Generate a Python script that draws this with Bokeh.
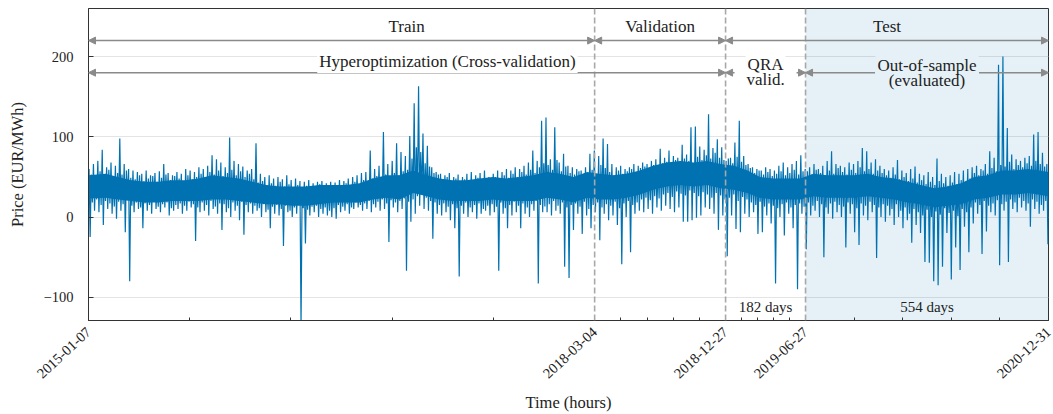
import pandas as pd
from bokeh.plotting import figure
from bokeh.models import (Range1d, FixedTicker, Span, Label, Arrow, NormalHead,
                          BoxAnnotation)
from bokeh.embed import file_html
from bokeh.resources import INLINE

# ---------------------------------------------------------------- data
START = pd.Timestamp("2015-01-07")
period_dates = ["2015-01-07", "2018-03-04", "2018-12-27", "2019-06-27", "2020-12-31"]
period_days = [182, 554]   # QRA validation window, evaluated out-of-sample window
BIN_DAYS = 10              # width of the aggregation bins of the hourly price

# highest / lowest hourly price inside each 10-day bin (EUR/MWh)
price_hi = [
    60, 66, 70, 84, 62, 68, 64, 98, 66, 60, 58, 56, 54, 58, 52, 55, 57, 66, 55, 52,
    56, 54, 60, 58, 56, 62, 60, 64, 77, 72, 68, 62, 99, 70, 66, 63, 58,
    60, 92, 54, 50, 52, 48, 50, 47, 52, 46, 48, 45, 44, 46, 42, 44, 45, 42, 44,
    43, 46, 45, 48, 50, 52, 55, 56, 83, 60, 64, 106, 66, 70, 92, 81, 76,
    101, 142, 163, 104, 89, 62, 56, 54, 52, 55, 50, 53, 50, 54, 56, 52, 55, 58,
    50, 54, 58, 56, 60, 58, 62, 60, 64, 68, 83, 70, 120,
    124, 72, 112, 68, 79, 64, 62, 60, 58, 62, 79, 83, 76, 98, 91, 66, 62, 64, 60,
    62, 66, 64, 68, 66, 70, 72, 85, 74, 83, 76, 74, 90, 78, 112, 113, 88, 84, 128,
    86, 97, 87,
    70, 74, 93, 120, 76, 66, 62, 60, 58, 62, 60, 58, 64, 68, 62, 66, 70, 77,
    60, 62, 66, 60, 64, 70, 82, 66, 64, 62, 68, 66, 70, 86, 82, 68, 72, 64,
    60, 58, 62, 71, 58, 55, 60, 63, 54, 52, 56, 50, 73, 54, 50, 52, 56, 54, 58, 60,
    62, 64, 60, 66, 82, 74, 190, 200, 111, 78, 72, 70, 74, 76, 103, 106, 80, 66,
]
price_lo = [
    -25, 8, 6, -10, 10, 4, -2, 8, -19, -80, 6, 10, -14, 8, 4, 10, 6, 12, 2, 8,
    10, 4, 8, 12, -30, 6, 8, 2, 10, 4, -16, 6, 0, 8, -4, -22, 6,
    4, 8, 0, 6, -14, 4, 2, -36, 6, 0, 4, -135, -33, 2, 6, 0, 4, 2, 0,
    -2, 6, 8, 4, 10, 12, 8, 10, 6, 12, 8, 10, -31, 12, 6, 10, -67,
    -6, 4, 14, 10, 8, -27, 4, 2, 6, -4, -14, -74, 4, 0, 6, -2, 4, 8,
    2, 6, -67, 4, -14, 2, 6, -14, 4, 0, 8, -83, 6,
    6, 2, 8, 4, -62, -76, -16, 4, -21, 2, -14, 6, -29, 4, -4, 2, -10, -59, 0,
    -44, 4, 8, 6, 10, 4, 12, 8, 14, 10, 6, 12, -6, -6, -4, -1, 2, 12, 10,
    4, -16, 2,
    -49, 2, -15, -19, 4, 0, 6, -21, -19, 2, -8, -83, 0, -23, 4, -14, -90, 4,
    -40, 2, 8, 0, -50, 4, -2, 6, 0, -38, 4, -19, -35, 2, -4, 6, -51, 0,
    -6, 2, -10, 0, -14, -4, -32, -10, -20, -56, -57, -80, -85, -62, -20, -78, -38,
    -66, -12, -44,
    -8, 4, -46, -18, 6, 2, -60, 8, -56, 10, 6, 12, 8, -12, 10, 4, 8, -34,
]

# second highest / second lowest excursion inside each 10-day bin (EUR/MWh)
price_hi2 = [
    53, 50, 57, 52, 59, 50, 55, 53, 58, 49, 47, 52, 45, 48, 51, 44, 49, 53, 46, 51,
    48, 45, 52, 47, 50, 54, 49, 56, 53, 58, 51, 55, 59, 52, 57, 50, 54,
    47, 43, 45, 40, 42, 39, 44, 38, 41, 37, 40, 36, 39, 35, 38, 41, 36, 39, 37, 40,
    38, 42, 39, 44, 41, 46, 43, 48, 51, 47, 53, 50, 55, 52, 57, 59,
    73, 87, 81, 67, 63, 55, 53, 47, 50, 45, 48, 44, 47, 42, 46, 49, 45, 48, 44, 50,
    47, 52, 49, 54, 50, 56, 53, 59, 55, 62, 67,
    65, 59, 71, 57, 63, 55, 53, 57, 51, 55, 59, 53, 65, 61, 56, 52, 58, 54, 57, 60,
    55, 61, 63, 59, 65, 62, 67, 69, 65, 71, 68, 73, 70, 67, 75, 71, 77, 73, 80, 74,
    71,
    73, 67, 75, 69, 65, 61, 55, 58, 53, 56, 51, 54, 57, 52, 55, 59, 53, 57,
    57, 53, 59, 55, 52, 58, 54, 61, 56, 53, 59, 55, 62, 57, 60, 54, 58, 55,
    52, 49, 53, 47, 50, 45, 48, 43, 46, 41, 44, 40, 45, 42, 39, 43, 41, 46, 44, 48,
    55, 52, 58, 54, 61, 57, 65, 63, 69, 60, 65, 62, 67, 64, 70, 66, 63, 59,
]
price_lo2 = [
    18, 22, 15, 20, 17, 13, 19, 16, 21, 14, 18, 12, 17, 15, 19, 13, 16, 18, 11, 15,
    17, 14, 19, 16, 12, 18, 15, 20, 13, 17, 16, 11, 18, 14, 19, 15, 17,
    14, 11, 16, 9, 13, 15, 10, 14, 8, 12, 15, 11, 9, 13, 14, 10, 12, 8, 11, 15,
    13, 16, 12, 18, 15, 17, 20, 16, 19, 22, 17, 21, 18, 20, 23, 19,
    22, 26, 28, 24, 20, 18, 15, 17, 13, 16, 11, 14, 18, 12, 15, 17, 10, 14, 16, 13,
    18, 11, 15, 19, 14, 17, 12, 16, 20, 15, 13,
    16, 20, 14, 18, 12, 15, 17, 13, 19, 10, 15, 18, 12, 16, 14, 19, 11, 17, 20, 15,
    18, 22, 24, 21, 26, 23, 28, 30, 25, 32, 29, 27, 33, 30, 26, 31, 28, 24, 30, 27,
    22,
    24, 28, 20, 25, 22, 18, 15, 19, 13, 17, 14, 11, 16, 18, 12, 15, 17, 13,
    18, 14, 20, 16, 12, 17, 19, 15, 13, 18, 16, 11, 17, 14, 19, 15, 12, 16,
    14, 10, 16, 8, 12, 4, 10, 6, 2, 9, 0, 7, 3, 11, 5, 8, 1, 10, 6, 12,
    18, 15, 20, 14, 17, 21, 16, 19, 22, 18, 24, 20, 17, 22, 19, 15, 20, 16,
]

# bulk of the hourly prices per calendar month, Jan 2015 .. Dec 2020
core_lo = [
    23, 24, 22, 20, 18, 18, 20, 20, 20, 22, 22, 20,
    18, 16, 16, 14, 14, 16, 18, 18, 18, 22, 24, 22,
    30, 26, 22, 20, 20, 20, 22, 20, 20, 20, 24, 22,
    18, 24, 22, 22, 24, 28, 34, 38, 40, 38, 40, 36,
    34, 30, 24, 22, 22, 22, 26, 24, 24, 24, 26, 24,
    22, 18, 16, 12, 14, 16, 22, 24, 28, 28, 30, 26,
]
core_hi = [
    52, 54, 50, 46, 44, 44, 46, 46, 48, 52, 50, 48,
    44, 40, 38, 38, 38, 40, 40, 40, 42, 48, 52, 52,
    58, 52, 48, 46, 46, 48, 50, 48, 50, 52, 56, 54,
    50, 56, 54, 52, 54, 58, 64, 68, 70, 68, 70, 66,
    64, 58, 50, 48, 48, 48, 54, 52, 52, 52, 54, 50,
    48, 44, 40, 36, 38, 42, 50, 52, 58, 58, 60, 56,
]

y_ticks = [-100, 0, 100, 200]


def to_hours(ts):
    return int(round((pd.Timestamp(ts) - START) / pd.Timedelta(hours=1)))


edges = [to_hours(d) for d in period_dates]
END = edges[-1]

# hourly series drawn through the bin extremes, in alternating order
xs, ys = [], []
for i in range(len(price_hi)):
    t0 = i * BIN_DAYS
    xs += [(t0 + 1.25) * 24, (t0 + 3.75) * 24, (t0 + 6.25) * 24, (t0 + 8.75) * 24]
    ys += [price_hi[i], price_lo[i], price_hi2[i], price_lo2[i]]

month_mid = pd.date_range("2015-01-01", periods=len(core_lo), freq="MS") + pd.Timedelta(days=14)
core_x = [min(max(to_hours(m), 0), END) for m in month_mid]
core_x[0], core_x[-1] = 0, END

# ---------------------------------------------------------------- figure
SERIF = "Liberation Serif"
BLUE = "#0072B2"
GREY = "#8a8a8a"
SHADE = "#e6f1f7"
INK = "#222222"
FRAME_W = 960
H_PER_PX = END / FRAME_W   # hours per screen pixel inside the frame

p = figure(width=1053, height=414, output_backend="svg", toolbar_location=None,
           x_range=Range1d(0, END), y_range=Range1d(-129, 260),
           min_border_left=88, min_border_right=5, min_border_top=8, min_border_bottom=92)
p.background_fill_color = "white"
p.border_fill_color = "white"
p.outline_line_color = "#333333"
p.outline_line_width = 1

# test period shading
p.add_layout(BoxAnnotation(left=edges[3], right=edges[4], fill_color=BLUE, fill_alpha=0.1,
                           line_color=None, level="underlay"))

p.varea(x=core_x, y1=core_lo, y2=core_hi, fill_color=BLUE)
p.line(xs, ys, line_color=BLUE, line_width=1.2)

# axes
minor = []
for a, b in zip(edges[:-1], edges[1:]):
    minor += [a + k * (b - a) / 5 for k in range(1, 5)]
p.xaxis.ticker = FixedTicker(ticks=edges, minor_ticks=minor)
p.xaxis.major_label_overrides = {e: d for e, d in zip(edges, period_dates)}
p.xaxis.major_label_orientation = 0.75
p.yaxis.ticker = FixedTicker(ticks=y_ticks)
p.yaxis.major_label_overrides = {t: str(t).replace("-", "\u2212") for t in y_ticks}

for ax in (p.xaxis, p.yaxis):
    ax.axis_line_color = "#333333"
    ax.major_tick_in = 5
    ax.major_tick_out = 0
    ax.minor_tick_in = 3
    ax.minor_tick_out = 0
    ax.major_tick_line_color = "#333333"
    ax.minor_tick_line_color = "#333333"
    ax.major_label_text_font = SERIF
    ax.major_label_text_font_size = "14.5px"
    ax.major_label_text_color = INK
    ax.axis_label_text_font = SERIF
    ax.axis_label_text_font_size = "16.5px"
    ax.axis_label_text_font_style = "normal"
    ax.axis_label_text_color = INK
p.yaxis.minor_tick_line_color = None
p.xaxis.major_label_standoff = 9
p.yaxis.major_label_standoff = 15
p.xaxis.axis_label = "Time (hours)"
p.yaxis.axis_label = "Price (EUR/MWh)"
p.xaxis.axis_label_standoff = 7
p.yaxis.axis_label_standoff = 14

p.xgrid.visible = False
p.ygrid.grid_line_color = "#e4e4e4"
p.ygrid.grid_line_width = 1

# period boundaries
for e in edges[1:4]:
    p.add_layout(Span(location=e, dimension="height", line_color="#a8a8a8",
                      line_dash="6 3", line_width=1.6))


def head():
    return NormalHead(size=7, fill_color=GREY, line_color=GREY, line_width=1)


def span_arrow(x0, x1, y):
    p.add_layout(Arrow(x_start=x0, y_start=y, x_end=x1, y_end=y,
                       start=head(), end=head(), line_color=GREY, line_width=1.5))


def split_arrow(x0, x1, y, gap_px):
    """Double arrow whose shaft is left open around a centred caption."""
    c = (x0 + x1) / 2
    half = gap_px / 2 * H_PER_PX
    p.add_layout(Arrow(x_start=c - half, y_start=y, x_end=x0, y_end=y, start=None,
                       end=head(), line_color=GREY, line_width=1.5))
    p.add_layout(Arrow(x_start=c + half, y_start=y, x_end=x1, y_end=y, start=None,
                       end=head(), line_color=GREY, line_width=1.5))


def text(x, y, s, bg=None, size="17px"):
    kw = dict(x=x, y=y, text=s, text_align="center", text_baseline="middle",
              text_font=SERIF, text_font_size=size, text_color=INK)
    if bg is not None:
        kw.update(background_fill_color=bg, padding=2)
    p.add_layout(Label(**kw))


ROW1, ROW2 = 220, 180
span_arrow(edges[0], edges[1], ROW1)
span_arrow(edges[1], edges[2], ROW1)
span_arrow(edges[2], edges[4], ROW1)
span_arrow(edges[0], edges[2], ROW2)
split_arrow(edges[2], edges[3], ROW2, 62)
split_arrow(edges[3], edges[4], ROW2, 104)


def mid(a, b):
    return (a + b) / 2


text(to_hours("2016-12-31"), 238, "Train")
text(mid(edges[1], edges[2]), 238, "Validation")
text(mid(edges[2], edges[4]), 238, "Test")
text(to_hours("2017-04-03"), 194, "Hyperoptimization (Cross-validation)", bg="white")
text(mid(edges[2], edges[3]), 190, "QRA", bg="white")
text(mid(edges[2], edges[3]), 171, "valid.")
text(mid(edges[3], edges[4]), 189, "Out-of-sample", bg=SHADE)
text(mid(edges[3], edges[4]), 170, "(evaluated)")
text(mid(edges[2], edges[3]), -112, f"{period_days[0]} days", size="15px")
text(mid(edges[3], edges[4]), -112, f"{period_days[1]} days", size="15px")

open("out.html", "w").write(file_html(p, INLINE))
